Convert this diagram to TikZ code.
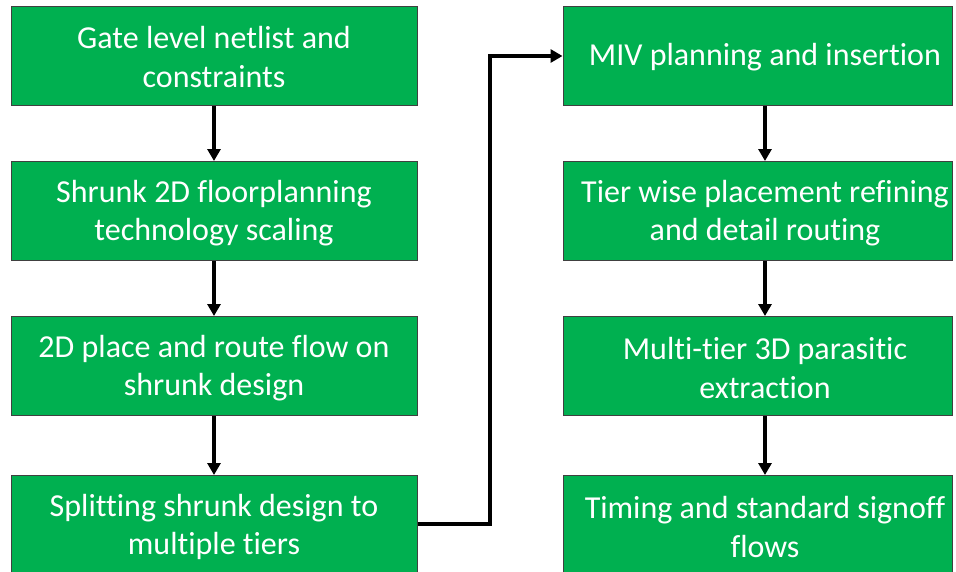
\documentclass[tikz,border=0pt]{standalone}
\usepackage{fontspec}
\setmainfont{Carlito}[Ligatures={NoCommon}]
\usetikzlibrary{arrows.meta}
\definecolor{boxgreen}{HTML}{00B050}
\begin{document}
\begin{tikzpicture}[x=1pt,y=-1pt,
  stepbox/.style={draw=black!75,line width=1pt,fill=boxgreen,minimum height=99pt,inner sep=0pt},
  leftbox/.style={stepbox,minimum width=406pt},
  rightbox/.style={stepbox,minimum width=389pt},
  steptext/.style={text=white,align=center,font=\fontsize{32}{38.5}\selectfont,inner sep=0pt},
  flow/.style={line width=3.6pt,-{Triangle[width=13pt,length=12pt]}}]
\useasboundingbox (0,0) rectangle (956,571);
\begin{scope}
\clip (0,0) rectangle (956,571);
% left column
\node[leftbox] (b1) at (214,55.5) {};
\node[steptext] (t1) at (214,57) {Gate level netlist and\\constraints};
\node[leftbox] (b2) at (214,211) {};
\node[steptext] (t2) at (214,213) {Shrunk 2D floorplanning\\technology scaling};
\node[leftbox] (b3) at (214,366) {};
\node[steptext] (t3) at (214,368) {2D place and route flow on\\shrunk design};
\node[leftbox] (b4) at (214,525) {};
\node[steptext] (t4) at (214,527) {Splitting shrunk design to\\multiple tiers};
% right column
\node[rightbox] (b5) at (757.5,55.5) {};
\node[steptext] (t5) at (765,57) {MIV planning and insertion};
\node[rightbox] (b6) at (757.5,211) {};
\node[steptext] (t6) at (765,213) {Tier wise placement refining\\and detail routing};
\node[rightbox] (b7) at (757.5,366) {};
\node[steptext] (t7) at (765,368) {Multi-tier 3D parasitic\\extraction};
\node[rightbox] (b8) at (757.5,525) {};
\node[steptext] (t8) at (765,527) {Timing and standard signoff\\flows};
\end{scope}
% connectors
\coordinate (elbow) at (490,0);
\draw[flow] (b1.south) -- (b2.north);
\draw[flow] (b2.south) -- (b3.north);
\draw[flow] (b3.south) -- (b4.north);
\draw[flow] (b4.east |- 0,524) -- (elbow |- 0,524) -- (elbow |- 0,56) -- (b5.west |- 0,56);
\draw[flow] (b5.south -| t5) -- (b6.north -| t5);
\draw[flow] (b6.south -| t5) -- (b7.north -| t5);
\draw[flow] (b7.south -| t5) -- (b8.north -| t5);
\end{tikzpicture}
\end{document}
